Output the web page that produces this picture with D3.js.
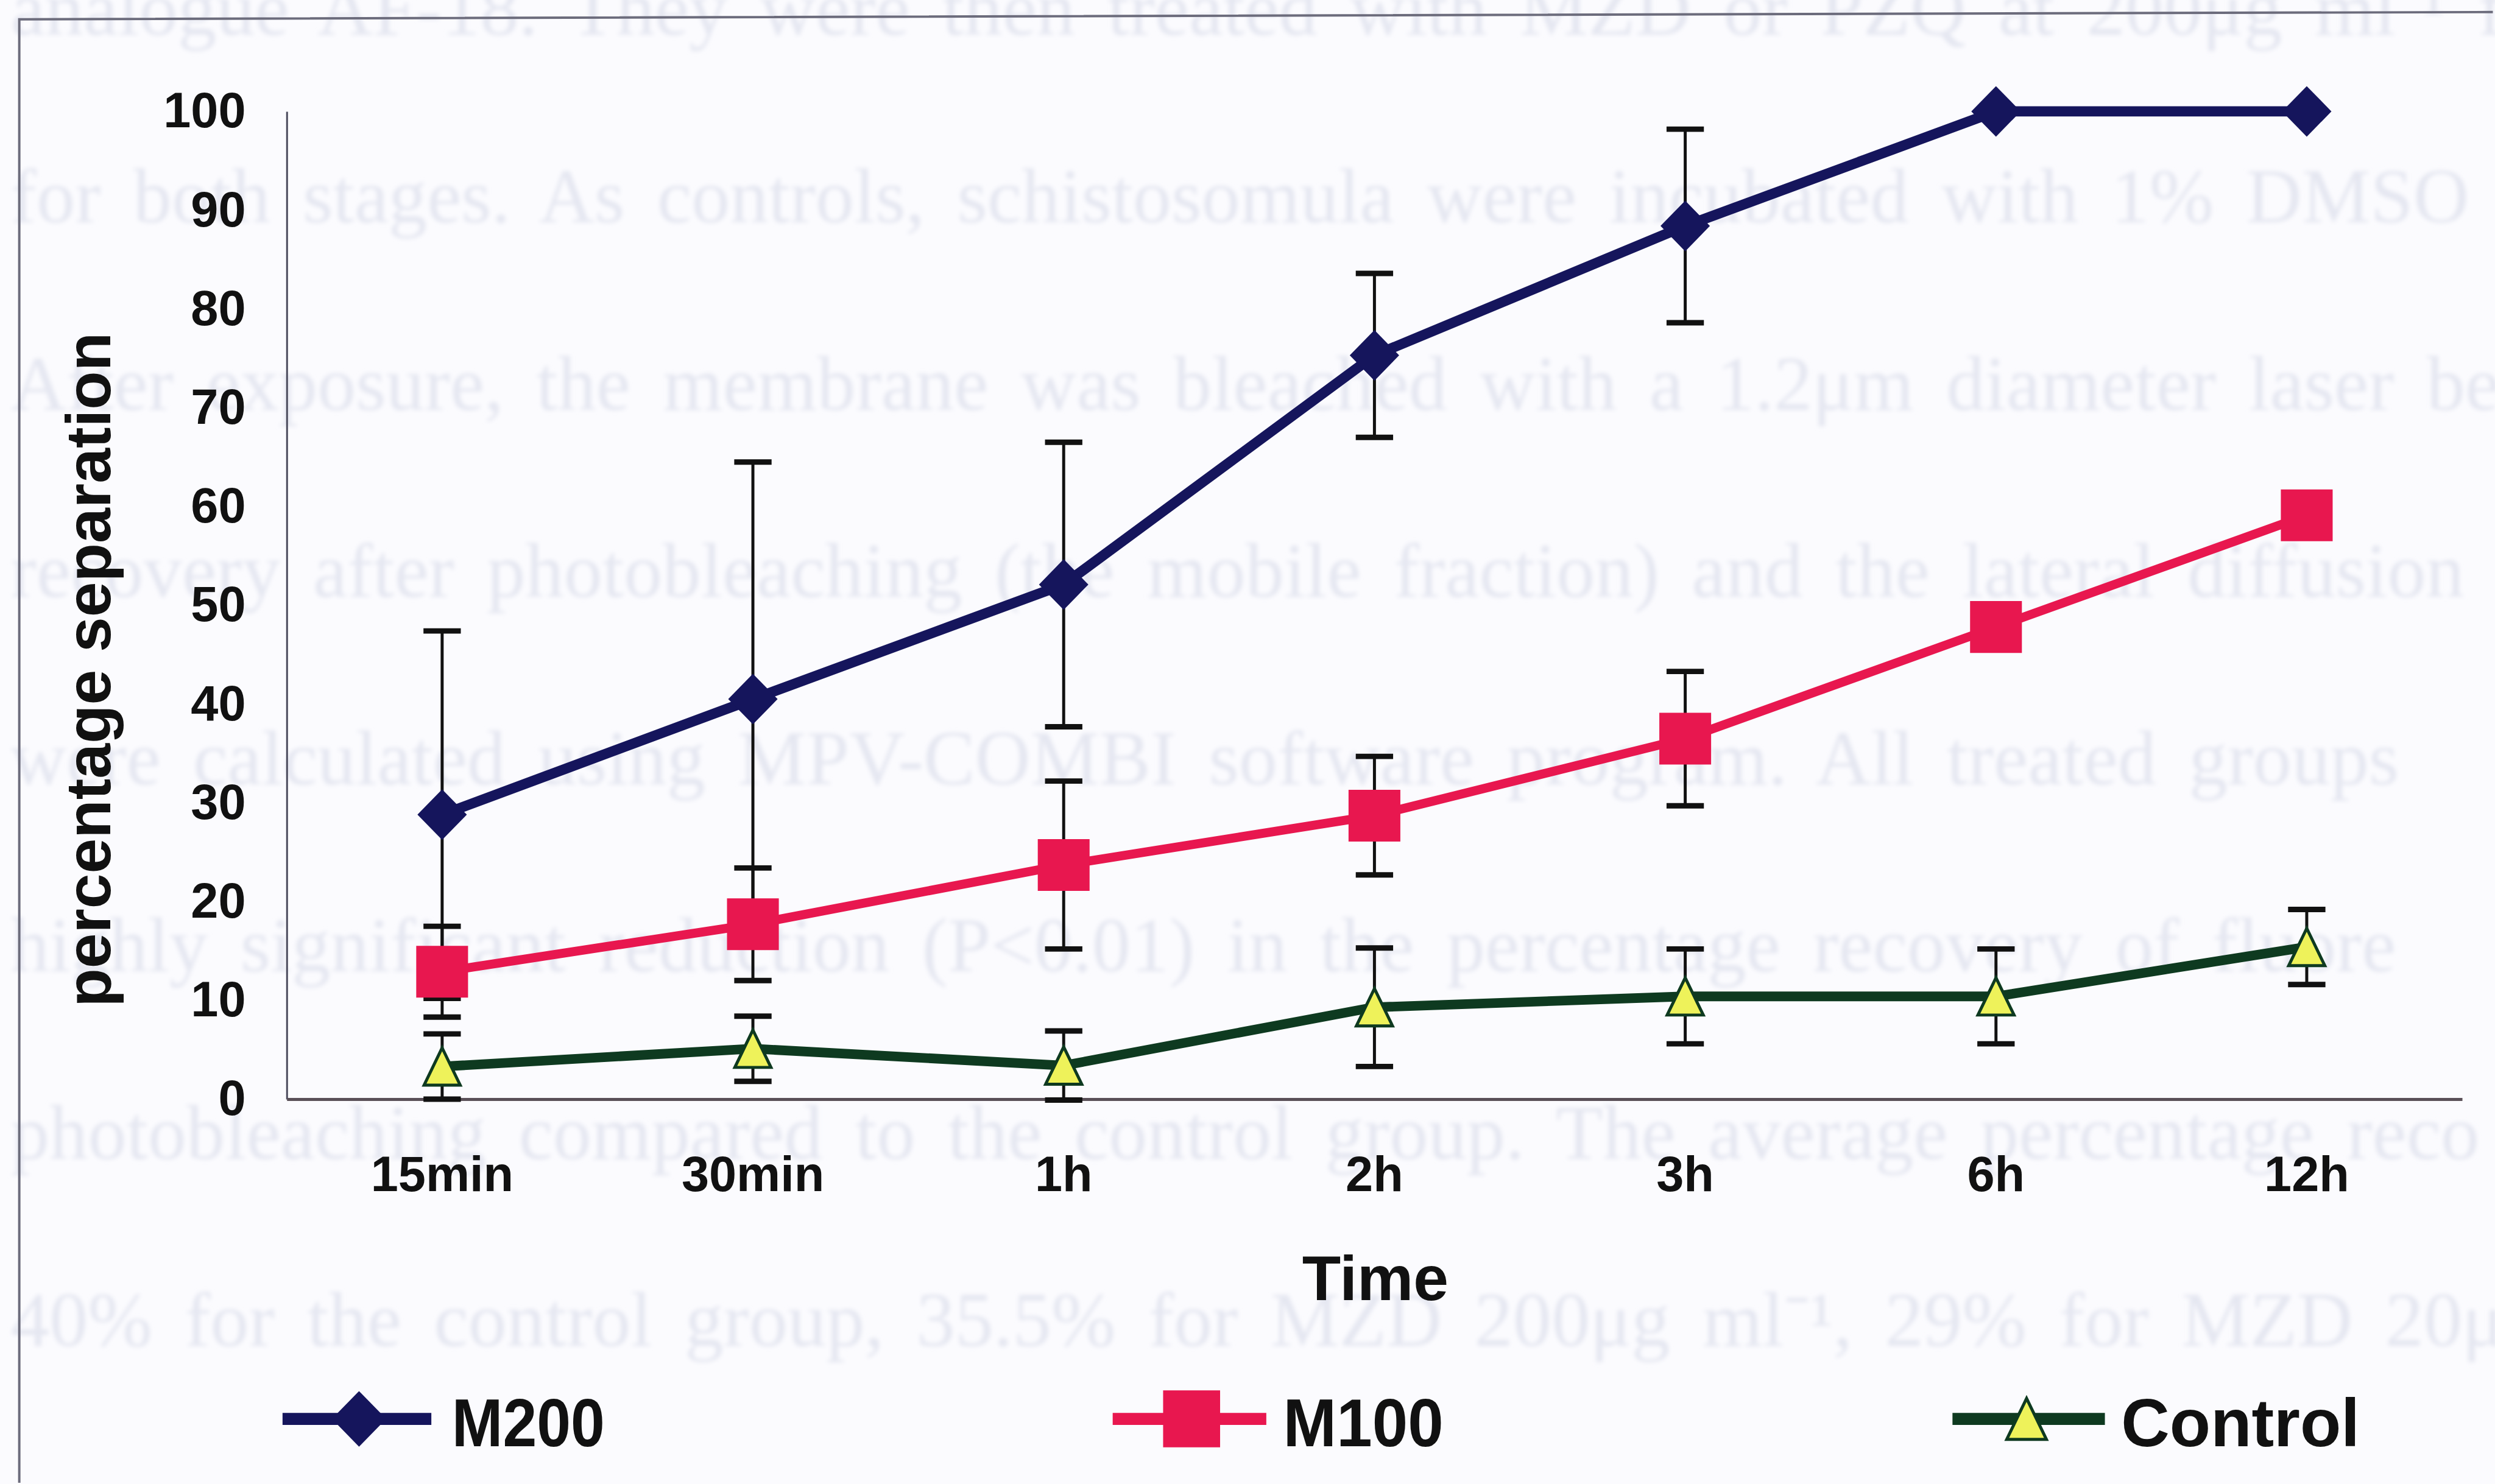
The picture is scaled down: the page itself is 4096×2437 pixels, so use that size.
<!DOCTYPE html>
<html>
<head>
<meta charset="utf-8">
<script src="https://cdn.jsdelivr.net/npm/d3@7"></script>
<style>
body{margin:0;background:#fbfbfe;}
svg{display:block;}
</style>
</head>
<body>
<svg></svg>
<script>
// categories on the x axis
var timeLabels = ["15min","30min","1h","2h","3h","6h","12h"];
// y tick labels
var yTickValues = [0,10,20,30,40,50,60,70,80,90,100];
// series names, as in the legend
var seriesNames = ["M200","M100","Control"];

// percentage separation
var m200Values = [28.8, 40.5, 52.1, 75.3, 88.4, 100, 100];
var m200Errors = [18.6, 24.0, 14.4, 8.3, 9.8, 0, 0];
var m100Values = [12.9, 17.7, 23.7, 28.7, 36.5, 47.8, 59.1];
var m100Errors = [4.6, 5.7, 8.5, 6.0, 6.8, 0, 0];
var controlValues = [3.3, 5.1, 3.4, 9.3, 10.4, 10.4, 15.4];
var controlErrors = [3.3, 3.3, 3.5, 6.0, 4.8, 4.8, 3.8];

// faint text showing through from the printed page
var pageLines = [
  "analogue AF-18. They were then treated with MZD or PZQ at 200\u03bcg ml\u207b\u00b9 for",
  "for both stages. As controls, schistosomula were incubated with 1% DMSO",
  "After exposure, the membrane was bleached with a 1.2\u03bcm diameter laser be",
  "recovery after photobleaching (the mobile fraction) and the lateral diffusion",
  "were calculated using MPV-COMBI software program. All treated groups",
  "highly significant reduction (P<0.01) in the percentage recovery of fluore",
  "photobleaching compared to the control group. The average percentage reco",
  "40% for the control group, 35.5% for MZD 200\u03bcg ml\u207b\u00b9, 29% for MZD 20\u03bc"
];

var makeTranslateString = function(x,y)
{
    return "translate("+x+","+y+")";
}

var font = "'Liberation Sans', Arial, Helvetica, sans-serif";

var initGraph = function()
{
    //reference size, everything drawn at 0.989 of it
    var screen = {width:4138,height:2462};
    var scale = 0.989;
    var plot = {left:476,right:4087,top:185,bottom:1825};

    var svg = d3.select("svg")
        .attr("width",4096)
        .attr("height",2437);

    svg.append("rect")
        .attr("width",4096).attr("height",2437)
        .attr("fill","#fbfbfe");

    var root = svg.append("g")
        .attr("transform","scale("+scale+")");

    //show-through text
    var defs = svg.append("defs");
    defs.append("filter").attr("id","soft")
        .append("feGaussianBlur").attr("stdDeviation",4);

    root.append("g")
        .attr("filter","url(#soft)")
        .selectAll("text")
        .data(pageLines)
        .enter()
        .append("text")
        .attr("x",18)
        .attr("y",function(d,i){return 58+i*311;})
        .attr("font-family","'Liberation Serif', 'Times New Roman', serif")
        .attr("font-size",128)
        .attr("word-spacing",22)
        .attr("fill","#e5e7f1")
        .text(function(d){return d;});

    //frame of the figure
    root.append("polyline")
        .attr("points","32,2462 32,32 4138,20")
        .attr("fill","none")
        .attr("stroke","#6c6c7c")
        .attr("stroke-width",4);

    var xScale = d3.scaleBand()
        .domain(timeLabels)
        .range([plot.left,plot.right])
        .padding(0);

    var yScale = d3.scaleLinear()
        .domain([0,100])
        .range([plot.bottom,plot.top]);

    var cx = function(i){return xScale(timeLabels[i])+xScale.bandwidth()/2;};

    //axes
    var yAxis = root.append("g")
        .attr("transform",makeTranslateString(plot.left,0))
        .call(d3.axisLeft(yScale).tickValues(yTickValues)
              .tickSize(0).tickPadding(68).tickFormat(d3.format("d")));
    yAxis.select(".domain").attr("stroke","#4a4a5c").attr("stroke-width",3);

    var xAxis = root.append("g")
        .attr("transform",makeTranslateString(0,plot.bottom))
        .call(d3.axisBottom(xScale).tickSize(0).tickPadding(95));
    xAxis.select(".domain").attr("stroke","#5a5058").attr("stroke-width",5);

    root.selectAll(".tick text")
        .attr("font-family",font)
        .attr("font-weight","bold")
        .attr("font-size",82)
        .attr("fill","#111");

    //axis titles
    root.append("text")
        .attr("x",2283).attr("y",2159)
        .attr("text-anchor","middle")
        .attr("font-family",font).attr("font-weight","bold")
        .attr("font-size",105).attr("fill","#111")
        .text("Time");

    root.append("text")
        .attr("transform","translate(183,1112) rotate(-90)")
        .attr("text-anchor","middle")
        .attr("font-family",font).attr("font-weight","bold")
        .attr("font-size",105).attr("fill","#111")
        .text("percentage separation");

    var series = [
        {name:seriesNames[0],values:m200Values,errors:m200Errors,
         color:"#15155c",marker:"diamond",width:17},
        {name:seriesNames[1],values:m100Values,errors:m100Errors,
         color:"#e8174f",marker:"square",width:15},
        {name:seriesNames[2],values:controlValues,errors:controlErrors,
         color:"#0e3a20",marker:"triangle",width:16}
    ];

    var markerPath = function(type,big)
    {
        var f = big ? 1.1 : 1;
        if(type=="diamond")
        {
            var w=41*f,h=42*f;
            return "M0,"+(-h)+"L"+w+",0L0,"+h+"L"+(-w)+",0Z";
        }
        if(type=="square")
        {
            var s=43*f;
            return "M"+(-s)+","+(-s)+"H"+s+"V"+s+"H"+(-s)+"Z";
        }
        var tw=30*f,th=31*f;
        return "M0,"+(-th)+"L"+tw+","+th+"L"+(-tw)+","+th+"Z";
    }

    var drawMarker = function(g,s,big)
    {
        var p = g.append("path").attr("d",markerPath(s.marker,big));
        if(s.marker=="triangle")
        {
            p.attr("fill","#eef25a").attr("stroke",s.color).attr("stroke-width",5);
        }
        else
        {
            p.attr("fill",s.color);
        }
    }

    var line = d3.line()
        .x(function(d,i){return cx(i);})
        .y(function(d){return yScale(d);});

    series.forEach(function(s)
    {
        var g = root.append("g");

        //error bars
        s.values.forEach(function(v,i)
        {
            var e = s.errors[i];
            if(e<=0){return;}
            var x = cx(i);
            var y1 = yScale(v+e), y2 = yScale(v-e);
            g.append("line").attr("x1",x).attr("x2",x)
                .attr("y1",y1).attr("y2",y2)
                .attr("stroke","#111").attr("stroke-width",5);
            [y1,y2].forEach(function(y)
            {
                g.append("line").attr("x1",x-31).attr("x2",x+31)
                    .attr("y1",y).attr("y2",y)
                    .attr("stroke","#111").attr("stroke-width",9);
            });
        });

        g.append("path")
            .datum(s.values)
            .attr("d",line)
            .attr("fill","none")
            .attr("stroke",s.color)
            .attr("stroke-width",s.width)
            .attr("stroke-linejoin","round");

        s.values.forEach(function(v,i)
        {
            var m = g.append("g")
                .attr("transform",makeTranslateString(cx(i),yScale(v)));
            drawMarker(m,s,false);
        });
    });

    //legend
    var legendPos = [
        {x1:469,x2:716,mx:596,tx:750,tw:254},
        {x1:1847,x2:2102,mx:1978,tx:2130,tw:266},
        {x1:3241,x2:3494,mx:3364,tx:3521,tw:396}
    ];
    var legendY = 2356;

    series.forEach(function(s,i)
    {
        var p = legendPos[i];
        var g = root.append("g");
        g.append("line")
            .attr("x1",p.x1).attr("x2",p.x2)
            .attr("y1",legendY).attr("y2",legendY)
            .attr("stroke",s.color).attr("stroke-width",20);
        var m = g.append("g").attr("transform",makeTranslateString(p.mx,legendY));
        drawMarker(m,s,true);
        g.append("text")
            .attr("x",p.tx).attr("y",legendY+45)
            .attr("textLength",p.tw)
            .attr("lengthAdjust","spacingAndGlyphs")
            .attr("font-family",font).attr("font-weight","bold")
            .attr("font-size",112).attr("fill","#111")
            .text(s.name);
    });
}

initGraph();
</script>
</body>
</html>
